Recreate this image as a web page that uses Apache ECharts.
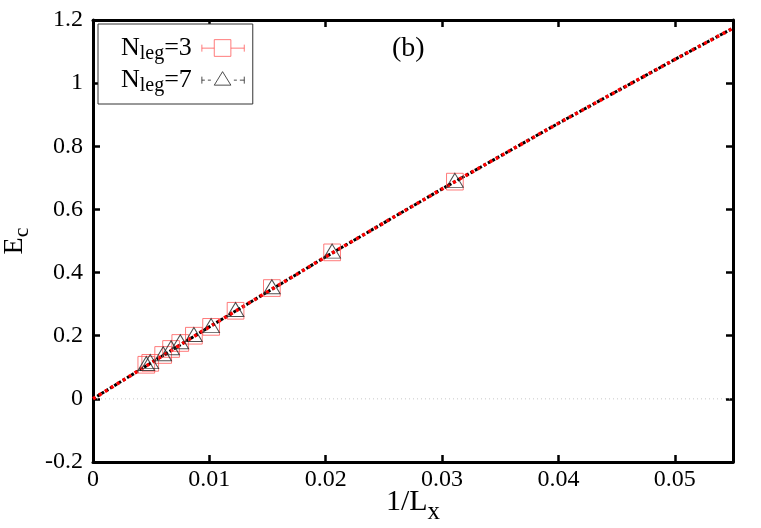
<!DOCTYPE html>
<html>
<head>
<meta charset="utf-8">
<script src="https://cdn.jsdelivr.net/npm/echarts@6/dist/echarts.min.js"></script>
<style>html,body{margin:0;padding:0;background:#fff}#c{width:761px;height:528px}</style>
</head>
<body>
<div id="c"></div>
<script>
// data
const invLx = [0.00458, 0.00492, 0.00603, 0.00671, 0.0075, 0.00867, 0.01015, 0.01225, 0.01537, 0.02055, 0.0311];
const ecNleg3 = [0.108, 0.114, 0.139, 0.158, 0.177, 0.200, 0.228, 0.279, 0.351, 0.464, 0.688];
const ecNleg7 = [0.112, 0.118, 0.143, 0.162, 0.181, 0.204, 0.232, 0.283, 0.355, 0.468, 0.692];
const fitX = [0, 0.01, 0.02, 0.03, 0.04, 0.05, 0.055];
const fitY = [0, 0.228, 0.450, 0.665, 0.873, 1.075, 1.174];
const zeroX = [0, 0.055];
const zeroY = [0, 0];
const xTicks = ['0', '0.01', '0.02', '0.03', '0.04', '0.05'];
const yTicks = ['-0.2', '0', '0.2', '0.4', '0.6', '0.8', '1', '1.2'];
const seriesNames = ['Nleg=3', 'Nleg=7'];

const zip = (a, b) => a.map((v, i) => [v, b[i]]);
const FONT = 'Liberation Serif';
const chart = echarts.init(document.getElementById('c'), null, {renderer: 'canvas'});

const sqPath = 'path://M0,8.5 L12.4,8.5 M29,8.5 L42.4,8.5 M0,5 L0,12 M42.4,5 L42.4,12 M12.4,0 L29,0 L29,16.7 L12.4,16.7 Z';
const triPath = 'path://M0,8.5 L3,8.5 M6,8.5 L9,8.5 M32,8.5 L35,8.5 M38,8.5 L42.4,8.5 M0,5 L0,12 M42.4,5 L42.4,12 M12.4,13.5 L20.7,0 L29,13.5 Z M0,0 L0,0.01 M0,16.7 L0,16.69';

const axisCommon = {
  type: 'value',
  axisLine: {show: true, onZero: false, lineStyle: {color: '#000', width: 3}},
  axisTick: {show: true, inside: true, length: 7, lineStyle: {color: '#000', width: 2.5}},
  splitLine: {show: false},
};

chart.setOption({
  animation: false,
  backgroundColor: '#fff',
  grid: {left: 93, right: 28, top: 20, bottom: 66, containLabel: false, outerBoundsMode: 'none'},
  legend: {
    show: true,
    left: 98, top: 24,
    orient: 'vertical',
    align: 'right',
    backgroundColor: '#fff',
    borderColor: '#333', borderWidth: 1,
    padding: [8, 8, 8, 23],
    itemGap: 0,
    itemWidth: 42.4, itemHeight: 16.7,
    data: [
      {name: seriesNames[0], icon: sqPath, itemStyle: {color: 'rgba(0,0,0,0)', borderColor: '#ff5a5a', borderWidth: 1}},
      {name: seriesNames[1], icon: triPath, itemStyle: {color: 'rgba(0,0,0,0)', borderColor: '#222', borderWidth: 1}}
    ],
    formatter: function (name) {
      const v = name.split('=')[1];
      return '{n|N}{s|leg}{e|=' + v + '}';
    },
    textStyle: {
      rich: {
        n: {fontFamily: FONT, fontSize: 26, color: '#000', lineHeight: 32, verticalAlign: 'middle'},
        e: {fontFamily: FONT, fontSize: 26, color: '#000', lineHeight: 32, verticalAlign: 'middle', padding: [0, 5, 0, 0]},
        s: {fontFamily: FONT, fontSize: 20, color: '#000', lineHeight: 32, padding: [12, 0, 0, 0], verticalAlign: 'middle'}
      }
    }
  },
  graphic: [{
    type: 'text', left: 392, top: 35,
    style: {text: '(b)', font: '28px "Liberation Serif"', fill: '#000'}
  }],
  xAxis: [
    Object.assign({}, axisCommon, {
      min: 0, max: 0.055, interval: 0.01, position: 'bottom',
      axisLabel: {fontFamily: FONT, fontSize: 24, color: '#000', margin: 6,
        formatter: v => {
          const k = Math.round(v / 0.01);
          return Math.abs(v - k * 0.01) < 1e-9 && xTicks[k] !== undefined ? xTicks[k] : '';
        }},
      name: '{a|1/L}{b|x}', nameLocation: 'middle', nameGap: 23, nameMoveOverlap: false,
      nameTextStyle: {rich: {
        a: {fontFamily: FONT, fontSize: 30, color: '#000', lineHeight: 34, verticalAlign: 'middle'},
        b: {fontFamily: FONT, fontSize: 25, color: '#000', lineHeight: 34, padding: [20, 0, 0, 0], verticalAlign: 'middle'}
      }}
    }),
    Object.assign({}, axisCommon, {
      min: 0, max: 0.055, interval: 0.01, position: 'top',
      axisLabel: {show: false}
    })
  ],
  yAxis: [
    Object.assign({}, axisCommon, {
      min: -0.2, max: 1.2, interval: 0.2, position: 'left',
      axisLabel: {fontFamily: FONT, fontSize: 24, color: '#000', margin: 10,
        formatter: v => yTicks[Math.round((v + 0.2) / 0.2)]},
      name: '{a|E}{b|c}', nameLocation: 'middle', nameGap: 61, nameRotate: 90, nameMoveOverlap: false,
      nameTextStyle: {rich: {
        a: {fontFamily: FONT, fontSize: 28, color: '#000', lineHeight: 34, verticalAlign: 'middle'},
        b: {fontFamily: FONT, fontSize: 22, color: '#000', lineHeight: 34, padding: [14, 0, 0, 0], verticalAlign: 'middle'}
      }}
    }),
    Object.assign({}, axisCommon, {
      min: -0.2, max: 1.2, interval: 0.2, position: 'right',
      axisLabel: {show: false}
    })
  ],
  series: [
    {
      name: 'zero', type: 'line', data: zip(zeroX, zeroY), symbol: 'none', silent: true,
      lineStyle: {color: '#c8c8c8', width: 1, type: [1, 3]}, z: 1
    },
    {
      name: 'fit7', type: 'line', data: zip(fitX, fitY), symbol: 'none', silent: true,
      lineStyle: {color: '#000', width: 3, type: [3, 2]}, z: 3
    },
    {
      name: 'fit3', type: 'line', data: zip(fitX, fitY), symbol: 'none', silent: true,
      lineStyle: {color: '#ff0000', width: 3.5, type: [3, 4]}, z: 4
    },
    {
      name: seriesNames[0], type: 'scatter', data: zip(invLx, ecNleg3),
      symbol: 'rect', symbolSize: 16.7,
      itemStyle: {color: 'rgba(0,0,0,0)', borderColor: '#ff5a5a', borderWidth: 1}, z: 5
    },
    {
      name: seriesNames[1], type: 'scatter', data: zip(invLx, ecNleg7),
      symbol: 'triangle', symbolSize: [16.7, 14],
      itemStyle: {color: 'rgba(0,0,0,0)', borderColor: '#222', borderWidth: 1}, z: 6
    }
  ]
});
</script>
</body>
</html>
